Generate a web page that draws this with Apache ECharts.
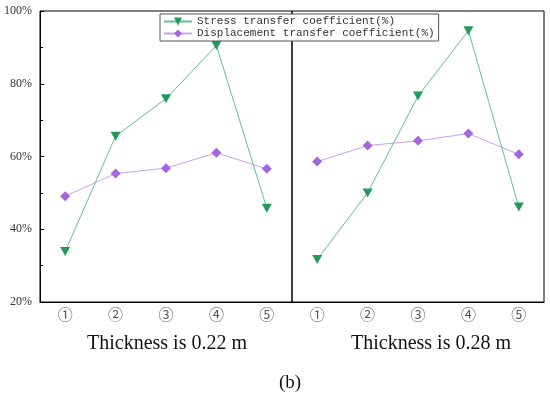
<!DOCTYPE html>
<html><head><meta charset="utf-8">
<script src="https://cdn.jsdelivr.net/npm/echarts@6/dist/echarts.min.js"></script>
<style>html,body{margin:0;padding:0;background:#fff}#c{width:550px;height:397px}</style>
</head><body><div id="c"></div>
<script>
const categories = ['①','②','③','④','⑤'];
const yTicks = [20, 40, 60, 80, 100];
const stress022 = [33.9, 65.6, 75.9, 90.5, 45.8];
const disp022 = [49.1, 55.3, 56.8, 61.0, 56.6];
const stress028 = [31.7, 50.0, 76.6, 94.6, 46.1];
const disp028 = [58.6, 63.0, 64.3, 66.3, 60.6];
const panelTitles = ['Thickness is 0.22 m', 'Thickness is 0.28 m'];
const nameStress = 'Stress transfer coefficient(%)';
const nameDisp = 'Displacement transfer coefficient(%)';

const chart = echarts.init(document.getElementById('c'), null, {renderer: 'canvas'});
const green = '#26995a', greenLine = '#62c092';
const purple = '#a466dc', purpleLine = '#c8a2ec';

function xAx(gi) {
  return {
    type: 'category', gridIndex: gi, data: categories, boundaryGap: true,
    axisLine: {lineStyle: {color: '#000', width: 1}},
    axisTick: {inside: true, alignWithLabel: true, length: 5, lineStyle: {color: '#000'}},
    axisLabel: {fontFamily: 'Noto Sans CJK SC', fontSize: 15, color: '#555', margin: 5},
    splitLine: {show: false}
  };
}
function yAx(gi, show) {
  return {
    type: 'value', gridIndex: gi, min: yTicks[0], max: yTicks[yTicks.length-1], interval: 20,
    show: show,
    axisLine: {show: true, lineStyle: {color: '#000'}},
    axisTick: {show: true, inside: true, length: 4, lineStyle: {color: '#000'}},
    minorTick: {show: true, splitNumber: 2, length: 3, lineStyle: {color: '#000'}},
    axisLabel: {formatter: '{value}%', fontFamily: 'Liberation Serif', fontSize: 12, color: '#333', margin: 8},
    splitLine: {show: false}
  };
}
function ser(name, data, gi, isStress) {
  return {
    name: name, type: 'line', xAxisIndex: gi, yAxisIndex: gi, data: data,
    symbol: isStress ? 'triangle' : 'diamond',
    symbolRotate: isStress ? 180 : 0,
    symbolSize: isStress ? [10, 9] : [10, 10],
    itemStyle: {color: isStress ? green : purple},
    lineStyle: {color: isStress ? greenLine : purpleLine, width: 1},
    z: isStress ? 3 : 2
  };
}
chart.setOption({
  backgroundColor: '#fff',
  animation: false,
  grid: [
    {left: 40, right: 258, top: 11, bottom: 95, show: true, borderColor: '#000', borderWidth: 1},
    {left: 292, right: 6, top: 11, bottom: 95, show: true, borderColor: '#000', borderWidth: 1}
  ],
  xAxis: [xAx(0), xAx(1)],
  yAxis: [yAx(0, true), yAx(1, false)],
  legend: {
    orient: 'vertical', left: 160, top: 14, itemGap: 1, itemWidth: 28, itemHeight: 10,
    padding: [2, 4, 2, 3], backgroundColor: '#fff', borderColor: '#555', borderWidth: 1,
    textStyle: {fontFamily: 'Liberation Mono', fontSize: 11, color: '#333'},
    data: [nameStress, nameDisp], z: 10
  },
  series: [
    ser(nameStress, stress022, 0, true), ser(nameDisp, disp022, 0, false),
    ser(nameStress, stress028, 1, true), ser(nameDisp, disp028, 1, false)
  ],
  graphic: [
    {type: 'text', x: 167, y: 344, style: {text: panelTitles[0], font: '20px "Liberation Serif"', fill: '#111', align: 'center', verticalAlign: 'middle'}},
    {type: 'text', x: 431, y: 344, style: {text: panelTitles[1], font: '20px "Liberation Serif"', fill: '#111', align: 'center', verticalAlign: 'middle'}},
    {type: 'text', x: 290, y: 383, style: {text: '(b)', font: '19px "Liberation Serif"', fill: '#111', align: 'center', verticalAlign: 'middle'}}
  ]
});
</script></body></html>
